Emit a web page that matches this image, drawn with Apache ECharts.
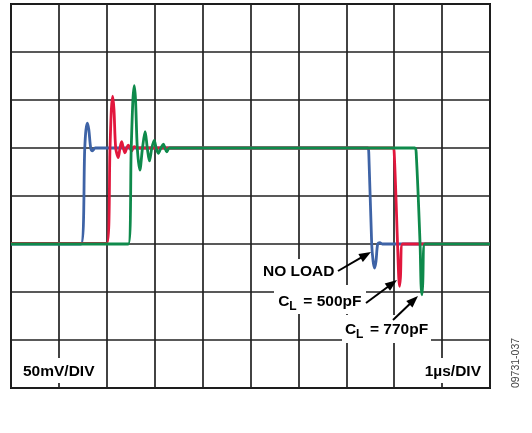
<!DOCTYPE html>
<html>
<head>
<meta charset="utf-8">
<script src="https://cdn.jsdelivr.net/npm/echarts@6/dist/echarts.min.js"></script>
<style>
html,body{margin:0;padding:0;background:#fff;}
#chart{width:532px;height:433px;}
</style>
</head>
<body>
<div id="chart"></div>
<script>
// time in µs (1 µs/DIV), amplitude in mV (50 mV/DIV)
var noLoad = [[0,0],[1.46,0],[1.54,100],[1.565,119],[1.595,126],[1.625,119],[1.664,100],[1.70,97],[1.76,100],[7.45,100],[7.47,94],[7.53,0],[7.56,-18],[7.59,-25],[7.62,-18],[7.655,0],[7.70,1.5],[7.75,0],[10,0]];
var cl500 = [[0,0.7],[2.00,0.7],[2.067,100],[2.095,140],[2.123,154],[2.15,140],[2.186,100],[2.24,90],[2.275,100],[2.31,106.5],[2.345,100],[2.38,95],[2.415,100],[2.45,103],[2.485,100],[2.52,97],[2.57,101.5],[2.65,100],[7.97,100],[8.0,95],[8.07,0],[8.095,-35],[8.112,-44],[8.13,-35],[8.175,0],[10,0]];
var cl770 = [[0,0],[2.45,0],[2.51,100],[2.545,150],[2.574,165],[2.60,150],[2.637,100],[2.69,77],[2.745,100],[2.80,117],[2.845,100],[2.89,86.5],[2.94,100],[2.99,108],[3.03,100],[3.075,94.5],[3.13,100],[3.18,104],[3.215,100],[3.25,96],[3.31,100],[8.43,100],[8.46,94],[8.54,0],[8.56,-42],[8.578,-53],[8.595,-42],[8.64,0],[10,0]];
var seriesNames = ['NO LOAD','CL = 500pF','CL = 770pF'];
var xRange = [0,10,1];      // min, max, interval (µs)
var yRange = [-150,250,50]; // min, max, interval (mV)

var chart = echarts.init(document.getElementById('chart'));
var FONT = 'Liberation Sans, Arial, sans-serif';

function arrow(x1,y1,x2,y2){
  var dx=x2-x1, dy=y2-y1, L=Math.sqrt(dx*dx+dy*dy), ux=dx/L, uy=dy/L;
  var hl=12, hw=4.5;
  var bx=x2-ux*hl, by=y2-uy*hl;
  return [
    {type:'line', z:100, shape:{x1:x1,y1:y1,x2:bx+ux*2,y2:by+uy*2}, style:{stroke:'#000',lineWidth:2}},
    {type:'polygon', z:100, shape:{points:[[x2,y2],[bx-uy*hw,by+ux*hw],[bx+uy*hw,by-ux*hw]]}, style:{fill:'#000'}}
  ];
}
function txt(x,y,s,size,align){
  return {type:'text', z:100, x:x, y:y, style:{text:s, font:'bold '+size+'px '+FONT, fill:'#000', align:align||'left', verticalAlign:'middle'}};
}
function box(x,y,w,h){
  return {type:'rect', z:1, shape:{x:x,y:y,width:w,height:h}, style:{fill:'#fff'}};
}

var graphics = [
  box(258,259,84,26), box(274,285,92,29), box(342,315,89,28),
  box(18,358,86,25), box(417,358,70,25),
  txt(263,271.5,'NO LOAD',15.5),
  txt(278.3,301.3,'C',15.5), txt(289.3,307,'L',12), txt(303.3,301.3,'= 500pF',15.5),
  txt(345,329.5,'C',15.5), txt(356,335,'L',12), txt(370,329.5,'= 770pF',15.5),
  txt(23,372,'50mV/DIV',15.5), txt(481,372,'1µs/DIV',15.5,'right'),
  {type:'text', z:100, x:516, y:363, rotation:Math.PI/2, style:{text:'09731-037', font:'10.5px '+FONT, fill:'#444', align:'center', verticalAlign:'middle'}}
].concat(arrow(338,271,371,252)).concat(arrow(366,303,397,280)).concat(arrow(393,320,418,296));

function mk(name,data,color,z){
  return {name:name, type:'line', data:data, showSymbol:false, smooth:0.3, z:z,
    lineStyle:{color:color,width:2.8}, itemStyle:{color:color}, animation:false};
}

chart.setOption({
  animation:false,
  backgroundColor:'#fff',
  grid:{left:11, top:4, width:479, height:384, show:true, borderColor:'#111', borderWidth:2, backgroundColor:'transparent'},
  xAxis:{type:'value', min:xRange[0], max:xRange[1], interval:xRange[2],
    axisLine:{show:false}, axisTick:{show:false}, axisLabel:{show:false},
    splitLine:{show:true, lineStyle:{color:'#222', width:1.7}}},
  yAxis:{type:'value', min:yRange[0], max:yRange[1], interval:yRange[2],
    axisLine:{show:false}, axisTick:{show:false}, axisLabel:{show:false},
    splitLine:{show:true, lineStyle:{color:'#222', width:1.7}}},
  series:[
    mk(seriesNames[0], noLoad, '#3e63a6', 3),
    mk(seriesNames[1], cl500, '#e2173d', 4),
    mk(seriesNames[2], cl770, '#0e8a4b', 5)
  ],
  graphic:graphics
});
</script>
</body>
</html>
